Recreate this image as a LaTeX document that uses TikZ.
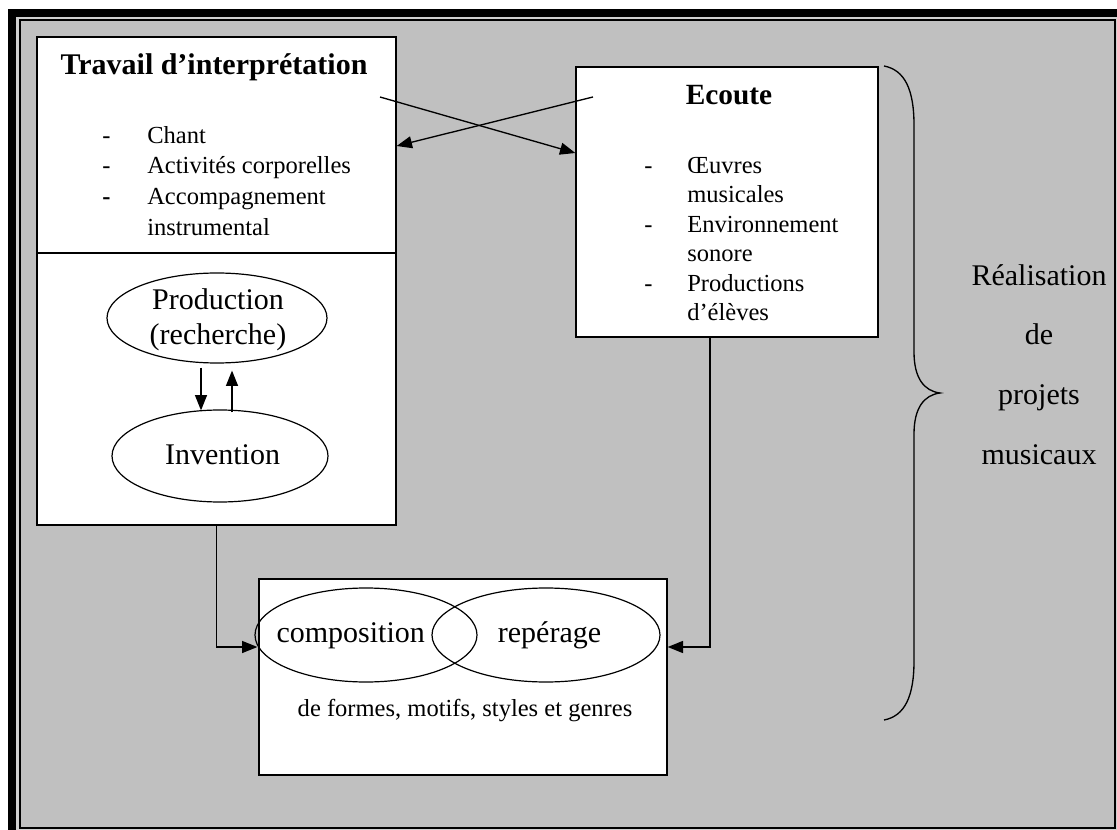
\documentclass[tikz,border=0pt]{standalone}
\usepackage{fontspec}
\setmainfont{Liberation Serif}
\usetikzlibrary{shapes.geometric,arrows.meta,calc}
\definecolor{bggray}{HTML}{C0C0C0}
\definecolor{lightband}{HTML}{D0D0D0}
\begin{document}
\begin{tikzpicture}[x=0.75pt,y=-0.75pt,
  box/.style={draw=black,line width=1pt,fill=white,rectangle,inner sep=0pt},
  ell/.style={draw=black,line width=0.9pt,ellipse,inner sep=0pt},
  arr/.style={line width=1pt,-{Triangle[length=11.5pt,width=9pt]}},
  big/.style={font=\fontsize{22.5}{27}\selectfont,inner sep=0pt},
  bigbold/.style={font=\fontsize{22.5}{27}\selectfont\bfseries,inner sep=0pt},
  small/.style={font=\fontsize{18.4}{22}\selectfont,inner sep=0pt},
]
\useasboundingbox (0,0) rectangle (1117,830);
\fill[white] (0,0) rectangle (1117,830);
% frame
\fill[black] (8,9) rectangle (1117,17);
\fill[black] (8,9) rectangle (16,830);
\fill[lightband] (16,17) rectangle (1117,830);
\draw[line width=1.5pt,fill=bggray] (19.5,20.5) rectangle (1115,827.5);

% left box
\node[box,minimum width=269.25pt,minimum height=366pt] (left) at (216.5,281) {};
\coordinate (divy) at (0,253);
\draw[line width=1pt] (left.west |- divy) -- (left.east |- divy);
\node[bigbold,anchor=base] (ttitle) at (214,75) {Travail d’interprétation};
\node[small,anchor=base west] (d1) at (102,143.3) {-};
\node[small,anchor=base west] (t1) at (147,143.3) {Chant};
\node[small,anchor=base west] (d2) at (102,174) {-};
\node[small,anchor=base west] (t2) at (147,174) {Activités corporelles};
\node[small,anchor=base west] (d3) at (102,205) {\textbf{-}};
\node[small,anchor=base west] (t3) at (147,205) {Accompagnement};
\node[small,anchor=base west] (t3b) at (147,235.7) {instrumental};

% ellipses in left box
\node[ell,minimum width=165pt,minimum height=67.5pt] (prod) at (217,318) {};
\node[big,anchor=base] (prodt) at (218,309.3) {Production};
\node[big,anchor=base] (prodt2) at (218,344.3) {(recherche)};
\node[ell,minimum width=162pt,minimum height=69pt] (inv) at (220,456) {};
\node[big,anchor=base] (invt) at (222.5,464.3) {Invention};
\draw[arr] ($(prod.south)+(-16,4)$) -- ($(inv.north)+(-19,1)$);
\draw[arr] ($(inv.north)+(12,3)$) -- ($(prod.south)+(15,7)$);

% Ecoute box
\node[box,minimum width=226.5pt,minimum height=202.5pt] (ec) at (727,202) {};
\node[font=\fontsize{22}{26}\selectfont\bfseries,inner sep=0pt,anchor=base] (etitle) at (729,105) {Ecoute};
\node[small,anchor=base west] (e1) at (644,173.3) {-};
\node[small,anchor=base west] (e1t) at (687,173.3) {Œuvres};
\node[small,anchor=base west] (e1b) at (687,202.7) {musicales};
\node[small,anchor=base west] (e2) at (644,232.7) {-};
\node[small,anchor=base west] (e2t) at (687,232.7) {Environnement};
\node[small,anchor=base west] (e2b) at (687,261.7) {sonore};
\node[small,anchor=base west] (e3) at (644,291.7) {-};
\node[small,anchor=base west] (e3t) at (687,291.7) {Productions};
\node[small,anchor=base west] (e3b) at (687,321) {d’élèves};

% cross arrows
\coordinate (c1) at (380,97);
\coordinate (c2) at (593,97);
\draw[arr] (c1) -- ($(ec.west)+(0,-49)$);
\draw[arr] (c2) -- ($(left.east)+(0,-135)$);

% bottom box
\node[box,minimum width=306pt,minimum height=147pt] (bot) at (463,677) {};
\node[ell,minimum width=166.5pt,minimum height=70.5pt] (comp) at (366,635) {};
\node[ell,minimum width=171pt,minimum height=70.5pt] (rep) at (546,635) {};
\node[big,anchor=base] (compt) at (350.7,642.7) {composition};
\node[big,anchor=base] (rept) at (549.5,642.7) {repérage};
\node[small,anchor=base] (formes) at (465,716.7) {de formes, motifs, styles et genres};

% elbow connectors
\draw[arr] (left.south) |- ($(comp.west)+(3,12)$);
\draw[arr] ($(ec.south)+(-17,0)$) |- ($(bot.east)+(0,-30)$);

% brace
\draw[line width=1pt] (884,66) .. controls (905,70) and (914,90) .. (914,125)
  -- (914,352) .. controls (914,378) and (924,391) .. (940,393)
  .. controls (924,395) and (914,408) .. (914,434)
  -- (914,661) .. controls (914,696) and (905,716) .. (884,720);

% right text
\node[big,anchor=base] (r1) at (1039,286) {Réalisation};
\node[big,anchor=base] (r2) at (1039,345) {de};
\node[big,anchor=base] (r3) at (1039,405) {projets};
\node[big,anchor=base] (r4) at (1039,464) {musicaux};
\end{tikzpicture}
\end{document}
